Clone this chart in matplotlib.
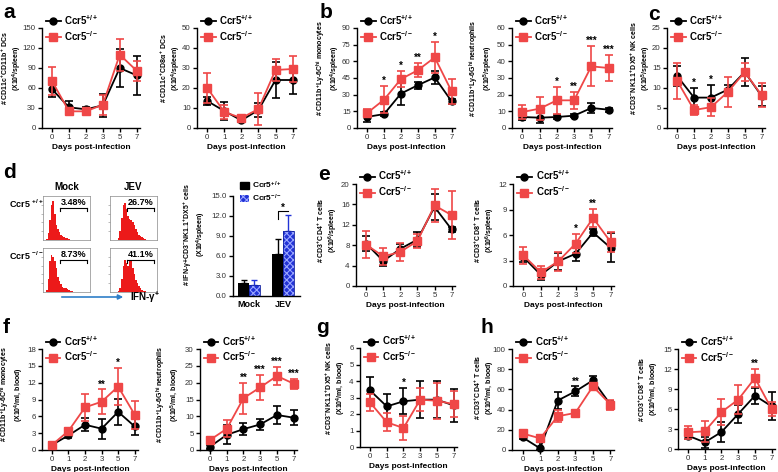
import matplotlib

matplotlib.use('Agg')

import numpy as np
import matplotlib.pyplot as plt
from matplotlib.lines import Line2D
from matplotlib.patches import Patch, FancyArrowPatch

plt.rcParams.update({
    'font.family': 'Liberation Sans',
    'mathtext.fontset': 'custom',
    'mathtext.rm': 'Liberation Sans:bold',
    'mathtext.it': 'Liberation Sans:bold:italic',
    'mathtext.bf': 'Liberation Sans:bold',
    'mathtext.default': 'rm',
    'axes.linewidth': 1.0,
    'xtick.major.size': 3,
    'ytick.major.size': 3,
    'xtick.major.width': 1.0,
    'ytick.major.width': 1.0,
    'xtick.labelsize': 5.7,
    'ytick.labelsize': 5.7,
    'xtick.labelcolor': '#333333',
    'ytick.labelcolor': '#333333',
    'hatch.linewidth': 0.8,
})

W, H = 778, 472
RED = '#ef4747'
HIST_RED = '#ec1a1a'
BLUE = '#2233d6'

days = ['0', '1', '2', '3', '5', '7']

# panel a
a1_wt = [58, 31, 28, 34, 90, 79]
a1_wt_err = [12, 10, 3, 17, 29, 29]
a1_ko = [70, 25, 25, 35, 110, 86]
a1_ko_err = [21, 4, 4, 15, 24, 15]
a2_wt = [13.5, 8.5, 3.8, 9, 24, 24]
a2_wt_err = [2, 4.5, 0.8, 3.5, 9, 7]
a2_ko = [20, 8, 5, 9.5, 29, 29.5]
a2_ko_err = [7.5, 3.5, 1, 8, 5.5, 6.5]

# panel b
b1_wt = [10, 12.5, 31, 38.5, 45.5, 24]
b1_wt_err = [5, 1.5, 10, 3, 6, 2]
b1_ko = [13.5, 25.5, 44, 52, 63.5, 33]
b1_ko_err = [4, 12, 7, 6.5, 14, 11]
b1_stars = {1: '*', 2: '*', 3: '**', 4: '*'}
b2_wt = [6.6, 6.2, 6.6, 7.4, 12, 11]
b2_wt_err = [2, 3, 1, 1, 2.8, 1.3]
b2_ko = [9.6, 11.6, 16.6, 16.6, 37, 36]
b2_ko_err = [4, 7, 8, 5, 12, 8]
b2_stars = {2: '*', 3: '**', 4: '***', 5: '***'}

# panel c
c_wt = [13, 7.6, 7.6, 9.6, 14, 8]
c_wt_err = [2.5, 2.5, 3.2, 1.2, 3.5, 2.5]
c_ko = [11.8, 4.5, 5.2, 9, 14, 8.2]
c_ko_err = [4.5, 1.3, 2.3, 3.8, 2.2, 3]
c_stars = {1: '*', 2: '*'}

# panel d
groups = ['Mock', 'JEV']
d_wt = [1.9, 6.3]
d_wt_err = [0.5, 2.2]
d_ko = [1.6, 9.8]
d_ko_err = [0.8, 2.4]
d_pct = [['3.48%', '26.7%'], ['8.73%', '41.1%']]
hist_mock_wt = [0, 0, 0.03, 0.15, 0.45, 0.8, 0.88, 0.6, 0.35, 0.25, 0.18, 0.12, 0.08, 0.06, 0.05,
                0.04, 0.02, 0.01, 0, 0, 0, 0, 0, 0, 0, 0, 0, 0, 0, 0]
hist_jev_wt = [0, 0, 0, 0, 0, 0.05, 0.2, 0.5, 0.8, 0.85, 0.7, 0.55, 0.48, 0.45, 0.42,
               0.35, 0.25, 0.18, 0.12, 0.08, 0.06, 0.04, 0.02, 0.01, 0, 0, 0, 0, 0, 0]
hist_mock_ko = [0, 0, 0.05, 0.3, 0.7, 0.85, 0.8, 0.7, 0.55, 0.35, 0.25, 0.18, 0.12, 0.1, 0.08,
                0.06, 0.05, 0.03, 0.02, 0, 0, 0, 0, 0, 0, 0, 0, 0, 0, 0]
hist_jev_ko = [0, 0, 0, 0, 0, 0.03, 0.1, 0.3, 0.6, 0.72, 0.65, 0.6, 0.72, 0.7, 0.55,
               0.4, 0.28, 0.2, 0.14, 0.08, 0.05, 0.03, 0.02, 0, 0, 0, 0, 0, 0, 0]

# panel e
e1_wt = [8.3, 4.9, 7.3, 9.1, 15.5, 11.1]
e1_wt_err = [1.5, 1, 1, 1.5, 2.5, 0.5]
e1_ko = [8.1, 5.8, 6.7, 8.8, 15.8, 13.9]
e1_ko_err = [2.6, 1.6, 1.8, 1.4, 3.3, 4.7]
e2_wt = [3.4, 1.3, 2.9, 3.8, 6.3, 4.5]
e2_wt_err = [0.6, 0.6, 1.0, 0.8, 0.4, 1.7]
e2_ko = [3.6, 1.6, 2.9, 5.0, 8.0, 5.2]
e2_ko_err = [1.0, 0.8, 1.1, 1.1, 1.1, 1.2]
e2_stars = {3: '*', 4: '**'}

# panel f
f1_wt = [0.9, 2.6, 4.5, 3.8, 6.8, 4.2]
f1_wt_err = [0.6, 0.5, 1.2, 1.8, 2.3, 1.6]
f1_ko = [0.9, 3.4, 7.6, 8.6, 11.3, 6.3]
f1_ko_err = [0.3, 0.5, 2.4, 2.2, 3.3, 2.5]
f1_stars = {3: '**', 4: '*'}
f2_wt = [1.0, 4.5, 6.2, 7.6, 10.4, 9.6]
f2_wt_err = [0.6, 2.8, 1.8, 1.7, 2.6, 2.2]
f2_ko = [3.0, 6.3, 15.4, 18.6, 22.0, 19.7]
f2_ko_err = [1.0, 2.5, 4.6, 3.7, 2.6, 1.5]
f2_stars = {2: '**', 3: '***', 4: '***', 5: '***'}

# panel g
g_wt = [3.43, 2.46, 2.77, 2.87, 2.87, 2.52]
g_wt_err = [0.8, 0.75, 0.8, 1.1, 1.1, 1.0]
g_ko = [2.7, 1.5, 1.15, 2.87, 2.8, 2.6]
g_ko_err = [0.5, 0.55, 0.75, 0.7, 1.1, 0.8]
g_stars = {2: '*'}

# panel h
h1_wt = [12.5, 1.6, 49, 58, 69, 45]
h1_wt_err = [2, 6, 8, 5, 4, 4]
h1_ko = [16.4, 11.5, 33.4, 36.7, 63, 45]
h1_ko_err = [3, 3, 6, 2, 3, 5]
h1_stars = {3: '**'}
h2_wt = [2.0, 1.0, 2.55, 5.25, 8.0, 6.4]
h2_wt_err = [0.5, 0.8, 1.5, 1.4, 1.2, 2.1]
h2_ko = [2.5, 2.65, 5.55, 7.4, 10.65, 6.0]
h2_ko_err = [1.0, 1.6, 1.95, 2.2, 1.3, 1.1]
h2_stars = {4: '**'}

WT_LABEL = r'Ccr5$^{+/+}$'
KO_LABEL = r'Ccr5$^{-/-}$'


def px_axes(fig, x0, y0, x1, y1):
    """add axes given pixel box (left, top, right, bottom)"""
    return fig.add_axes([x0 / W, 1 - y1 / H, (x1 - x0) / W, (y1 - y0) / H])


def style_prism(ax):
    ax.spines['top'].set_visible(False)
    ax.spines['right'].set_visible(False)
    ax.tick_params(direction='out', pad=1.5)


def set_ylab(ax, box, text, offset, yc=0.58):
    # offset = px from y axis to the right edge of the (rotated) label
    ax.set_ylabel(text, fontsize=5.0, fontweight='bold', linespacing=1.05)
    ax.yaxis.set_label_coords(-offset / (box[2] - box[0]), yc)


def draw_series(ax, x, vals, errs, color, marker, ms, z):
    vals = np.array(vals, dtype=float)
    errs = np.array(errs, dtype=float)
    lower = np.minimum(errs, vals)
    ax.errorbar(x, vals, yerr=[lower, errs], color=color, marker=marker, ms=ms,
                lw=1.3, elinewidth=1.2, capsize=2.8, capthick=1.2, zorder=z,
                clip_on=False)


def line_panel(fig, box, wt, wt_err, ko, ko_err, ymax, ystep, ylabel, ylab_off,
               stars=None, yc=0.58):
    ax = px_axes(fig, *box)
    style_prism(ax)
    x = np.arange(len(days))
    draw_series(ax, x, wt, wt_err, 'black', 'o', 5, 3)
    draw_series(ax, x, ko, ko_err, RED, 's', 5.5, 4)
    ax.set_xlim(-0.6, len(days) - 0.8)
    ax.set_ylim(0, ymax)
    ax.set_yticks(np.arange(0, ymax + ystep / 2, ystep))
    ax.set_xticks(x)
    ax.set_xticklabels(days)
    ax.set_xlabel('Days post-infection', fontsize=6, fontweight='bold', labelpad=2)
    set_ylab(ax, box, ylabel, ylab_off, yc)
    if stars:
        for i, s in stars.items():
            top = max(wt[i] + wt_err[i], ko[i] + ko_err[i])
            ax.annotate(s, (i, top), xytext=(0, 0), textcoords='offset points',
                        ha='center', va='bottom', fontsize=7, fontweight='bold')
    handles = [Line2D([], [], color='black', marker='o', ms=5, lw=1.3),
               Line2D([], [], color=RED, marker='s', ms=5.5, lw=1.3)]
    ax.legend(handles, [WT_LABEL, KO_LABEL], loc='upper left', bbox_to_anchor=(0.04, 1.15),
              frameon=False, handlelength=1.5, handletextpad=0.4, labelspacing=0.2,
              borderaxespad=0, borderpad=0, prop={'size': 7, 'weight': 'bold'})
    return ax


fig = plt.figure(figsize=(W / 100, H / 100), dpi=100)

# row 1
line_panel(fig, (42, 28, 140, 128), a1_wt, a1_wt_err, a1_ko, a1_ko_err, 150, 30,
           '# CD11c$^{+}$CD11b$^{+}$ DCs\n(X10$^{4}$/spleen)', 18, yc=0.6)
line_panel(fig, (197, 28, 296, 128), a2_wt, a2_wt_err, a2_ko, a2_ko_err, 50, 10,
           '# CD11c$^{+}$CD8\u03b1$^{+}$ DCs\n(X10$^{4}$/spleen)', 14, yc=0.6)
line_panel(fig, (357, 28, 455, 128), b1_wt, b1_wt_err, b1_ko, b1_ko_err, 90, 15,
           '# CD11b$^{+}$Ly-6C$^{hi}$ monocytes\n(X10$^{4}$/spleen)', 15, b1_stars, yc=0.6)
line_panel(fig, (512, 28, 612, 128), b2_wt, b2_wt_err, b2_ko, b2_ko_err, 60, 10,
           '# CD11b$^{+}$Ly-6G$^{hi}$ neutrophils\n(X10$^{5}$/spleen)', 17, b2_stars, yc=0.6)
line_panel(fig, (667, 28, 765, 128), c_wt, c_wt_err, c_ko, c_ko_err, 25, 5,
           '# CD3$^{-}$NK1.1$^{+}$DX5$^{+}$ NK cells\n(X10$^{5}$/spleen)', 14, c_stars, yc=0.6)

# row 2: flow histograms
hists = [[hist_mock_wt, hist_jev_wt], [hist_mock_ko, hist_jev_ko]]
hist_cols = [(43, 90), (110, 157)]
hist_rows = [(196, 240), (248, 292)]
for r, (y0, y1) in enumerate(hist_rows):
    for c, (x0, x1) in enumerate(hist_cols):
        ax = px_axes(fig, x0, y0, x1, y1)
        h = hists[r][c]
        xb = (np.arange(len(h)) + 0.5) / len(h)
        ax.fill_between(xb, h, step='mid', color=HIST_RED, lw=0)
        ax.set_xlim(0, 1)
        ax.set_ylim(0, 1)
        for sp in ax.spines.values():
            sp.set_linewidth(0.5)
            sp.set_color('#888888')
        ax.set_xticks([])
        ax.set_yticks([0.2, 0.4, 0.6, 0.8])
        ax.set_yticklabels([])
        ax.tick_params(axis='y', length=1.5, width=0.4, color='#888888')
        ax.plot([0.36, 0.94], [0.72, 0.72], color='black', lw=0.8)
        ax.plot([0.36, 0.36], [0.66, 0.72], color='black', lw=0.8)
        ax.plot([0.94, 0.94], [0.66, 0.72], color='black', lw=0.8)
        ax.text(0.65, 0.76, d_pct[r][c], ha='center', va='bottom', fontsize=6.5,
                fontweight='bold')
        if r == 0:
            ax.text(0.5, 1.08, groups[c], ha='center', va='bottom', fontsize=7,
                    fontweight='bold', transform=ax.transAxes)
        if c == 0:
            fig.text(9 / W, 1 - (y0 + 8) / H, ['Ccr5 $^{+/+}$', 'Ccr5 $^{-/-}$'][r], ha='left',
                     va='center', fontsize=6.5, fontweight='bold')

fig.patches.append(FancyArrowPatch(
    (59 / W, 1 - 297 / H), (126 / W, 1 - 297 / H), transform=fig.transFigure,
    arrowstyle='-|>', mutation_scale=7, color='#2f7fc8', lw=1.2))
fig.text(130 / W, 1 - 297 / H, 'IFN-\u03b3$^{+}$', ha='left', va='center', fontsize=7,
         fontweight='bold')

# row 2: bar chart
dbox = (233, 196, 300, 296)
axd = px_axes(fig, *dbox)
style_prism(axd)
gx = np.arange(len(groups))
bw = 0.32
axd.bar(gx - bw / 2, d_wt, bw, color='black', zorder=2)
axd.errorbar(gx - bw / 2, d_wt, yerr=[np.zeros(2), d_wt_err], fmt='none', ecolor='black',
             elinewidth=1.0, capsize=2.5, capthick=1.0, zorder=1)
axd.bar(gx + bw / 2, d_ko, bw, color=BLUE, hatch='xxxxx', edgecolor='#9aa6ff', lw=0, zorder=2)
axd.bar(gx + bw / 2, d_ko, bw, fill=False, edgecolor='#1020a0', lw=0.6, zorder=3)
axd.errorbar(gx + bw / 2, d_ko, yerr=[np.zeros(2), d_ko_err], fmt='none', ecolor=BLUE,
             elinewidth=1.0, capsize=2.5, capthick=1.0, zorder=1)
axd.set_xlim(-0.47, 1.5)
axd.set_ylim(0, 15)
axd.set_yticks(np.arange(0, 15.1, 3))
axd.set_yticklabels(['%.1f' % v for v in np.arange(0, 15.1, 3)])
axd.set_xticks(gx)
axd.set_xticklabels(groups, fontsize=6.5, fontweight='bold', color='black')
axd.tick_params(axis='x', length=0, pad=3)
set_ylab(axd, dbox, '# IFN-\u03b3+CD3$^{-}$NK1.1$^{+}$DX5$^{+}$ cells\n(X10$^{4}$/spleen)', 25,
         yc=0.62)
bx0, bx1 = 1 - bw / 2, 1 + bw / 2
by = d_ko[1] + d_ko_err[1] + 0.5
axd.plot([bx0, bx0, bx1], [by - 1.1, by, by], color='black', lw=0.8)
axd.text((bx0 + bx1) / 2, by - 0.2, '*', ha='center', va='bottom', fontsize=7, fontweight='bold')
axd.legend([Patch(color='black'), Patch(facecolor=BLUE, hatch='xxxxx', edgecolor='#9aa6ff', lw=0)],
           [WT_LABEL, KO_LABEL], loc='upper left', bbox_to_anchor=(0.1, 1.16), frameon=False,
           handlelength=1.1, handleheight=0.9, handletextpad=0.4, labelspacing=0.15,
           borderaxespad=0, borderpad=0, prop={'size': 6, 'weight': 'bold'})

# row 2: panel e
line_panel(fig, (356, 184, 455, 286), e1_wt, e1_wt_err, e1_ko, e1_ko_err, 20, 4,
           '# CD3$^{+}$CD4$^{+}$ T cells\n(X10$^{6}$/spleen)', 16, yc=0.55)
line_panel(fig, (513, 184, 614, 286), e2_wt, e2_wt_err, e2_ko, e2_ko_err, 12, 3,
           '# CD3$^{+}$CD8$^{+}$ T cells\n(X10$^{6}$/spleen)', 16, e2_stars, yc=0.55)

# row 3
line_panel(fig, (42, 349, 138, 450), f1_wt, f1_wt_err, f1_ko, f1_ko_err, 18, 3,
           '# CD11b$^{+}$Ly-6C$^{hi}$ monocytes\n(X10$^{4}$/ml, blood)', 16, f1_stars, yc=0.55)
line_panel(fig, (200, 349, 297, 450), f2_wt, f2_wt_err, f2_ko, f2_ko_err, 30, 5,
           '# CD11b$^{+}$Ly-6G$^{hi}$ neutrophils\n(X10$^{5}$/ml, blood)', 18, f2_stars, yc=0.55)
line_panel(fig, (360, 348, 457, 447), g_wt, g_wt_err, g_ko, g_ko_err, 6, 1,
           '# CD3$^{-}$NK1.1$^{+}$DX5$^{+}$ NK cells\n(X10$^{4}$/ml, blood)', 12, g_stars, yc=0.6)
line_panel(fig, (512, 349, 614, 450), h1_wt, h1_wt_err, h1_ko, h1_ko_err, 100, 20,
           '# CD3$^{+}$CD4$^{+}$ T cells\n(X10$^{4}$/ml, blood)', 15, h1_stars, yc=0.62)
line_panel(fig, (678, 349, 775, 449), h2_wt, h2_wt_err, h2_ko, h2_ko_err, 15, 3,
           '# CD3$^{+}$CD8$^{+}$ T cells\n(X10$^{4}$/ml, blood)', 17, h2_stars, yc=0.6)

# panel letters
letters = {'a': (3, 3), 'b': (320, 3), 'c': (648, 5), 'd': (3, 163), 'e': (318, 165),
           'f': (3, 318), 'g': (316, 318), 'h': (481, 318)}
for k, (lx, ly) in letters.items():
    fig.text(lx / W, 1 - ly / H, k, ha='left', va='top', fontsize=15, fontweight='bold')

plt.savefig('out.png', dpi=100)
